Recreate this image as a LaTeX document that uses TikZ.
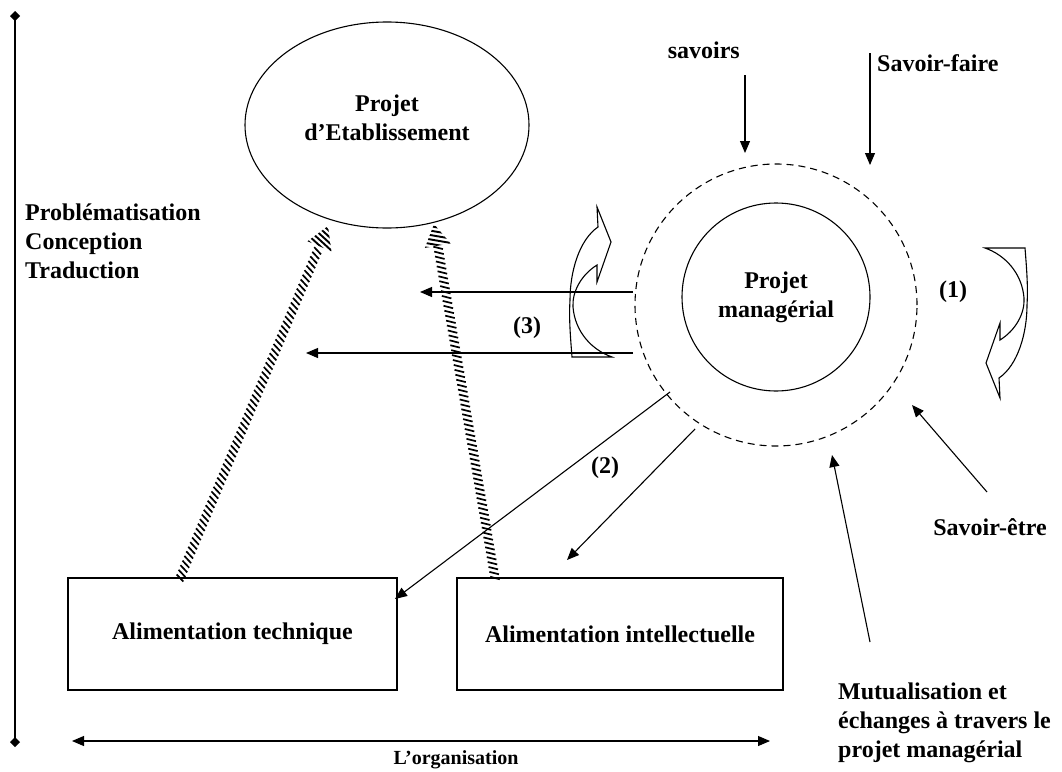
\documentclass[tikz,border=0pt]{standalone}
\usepackage{fontspec}
\setmainfont{Liberation Serif}
\usetikzlibrary{arrows.meta,calc,shapes.geometric,decorations.markings}

\tikzset{
	trait/.style={line width=1.1pt},
	fl/.style={trait, -{Triangle[length=12pt,width=10pt]}},
	txt/.style={font=\fontsize{24}{29}\selectfont\bfseries, inner sep=0pt},
	boite/.style={draw, trait, minimum height=112pt, txt},
	hach/.style={decorate, decoration={markings, mark=between positions 0 and 1 step 5pt with {\draw[line width=1.7pt] (-2pt,-4.5pt) -- (2pt,4.5pt);}}},
	courbe/.pic={
		\draw[trait] (1,20) -- (0,0) -- (14,35) -- (0,75) -- (0,58)
			.. controls (-16,68) and (-25,85) .. (-24,100)
			.. controls (-22,125) and (-5,143) .. (15,150)
			-- (-25,150)
			.. controls (-27,125) and (-28,110) .. (-27,93)
			.. controls (-27,65) and (-18,33) .. cycle;
	}
}
% hatched arrow head: #1 base on the shaft, #2 tip
\newcommand{\tetehach}[2]{
	\begin{scope}
		\clip ($(#1)!13pt!90:(#2)$) -- (#2) -- ($(#1)!13pt!-90:(#2)$) -- cycle;
		\path[decorate, decoration={markings, mark=between positions 0 and 1 step 4.6pt with {\draw[line width=1.9pt] (-5pt,-14pt) -- (5pt,14pt);}}] ($(#1)!-4pt!(#2)$) -- (#2);
	\end{scope}
}

\begin{document}
\begin{tikzpicture}[x=1pt, y=-1pt]
			%%%%% START %%%%%
			\useasboundingbox (0,0) rectangle (1062,771);
			
			% axes
			\draw[trait, {Diamond[length=10pt,width=10pt]}-{Diamond[length=10pt,width=10pt]}] (15,11) -- (15,747);
			\draw[trait, {Triangle[length=12pt,width=10pt]}-{Triangle[length=12pt,width=10pt]}] (72,741) -- (770,741);
			\node[txt, font=\fontsize{20}{24}\selectfont\bfseries] (org) at (456,760) {L’organisation};
			\node[txt, align=left, anchor=west] (pct) at (25,241) {Problématisation\\Conception\\Traduction};
			
			% projet d'etablissement
			\node[draw, trait, ellipse, minimum width=284pt, minimum height=206pt] (pe) at (387,125) {};
			\node[txt, align=center] (petxt) at (387,118) {Projet\\d’Etablissement};
			
			% projet managerial
			\node[draw, trait, dash pattern=on 7pt off 5pt, circle, minimum size=282pt] (zone) at (776,305) {};
			\node[draw, trait, circle, minimum size=188pt, txt, align=center] (pm) at (776,297) {Projet\\managérial};
			
			% boites
			\node[boite, minimum width=329pt] (tech) at (232.5,634) {Alimentation technique};
			\node[boite, minimum width=326pt] (intel) at (620,634) {Alimentation intellectuelle};
			
			% savoirs
			\node[txt, anchor=east] (sav) at (740,50) {savoirs};
			\node[txt, anchor=west] (sf) at (877,63) {Savoir-faire};
			\node[txt] (se) at (990,527) {Savoir-être};
			\node[txt, align=left, anchor=west] (mut) at (838,723) {Mutualisation et\\échanges à travers le\\projet managérial};
			\coordinate (savh) at (745,75);
			\coordinate (savb) at (745,153);
			\coordinate (sfh) at (870,53);
			\coordinate (sfb) at (870,165);
			\draw[fl] (savh) -- (savb);
			\draw[fl] (sfh) -- (sfb);
			\coordinate (seb) at (987,492);
			\coordinate (seh) at (912,405);
			\draw[fl] (seb) -- (seh);
			\coordinate (mutb) at (870,642);
			\coordinate (muth) at (832,455);
			\draw[fl] (mutb) -- (muth);
			
			% (1) (2) (3)
			\node[txt] (n1) at (953,292) {(1)};
			\node[txt] (n2) at (605,468) {(2)};
			\node[txt] (n3) at (527,328) {(3)};
			\coordinate (a3) at (633,292);
			\coordinate (b3) at (420,292);
			\coordinate (c3) at (633,353);
			\coordinate (d3) at (306,353);
			\draw[fl] (a3) -- (b3);
			\draw[fl] (c3) -- (d3);
			\coordinate (a2) at (670,392);
			\coordinate (b2) at (395,599);
			\coordinate (c2) at (695,429);
			\coordinate (d2) at (567,560);
			\draw[fl] (a2) -- (b2);
			\draw[fl] (c2) -- (d2);
			\pic at (597,207) {courbe};
			\pic[rotate=180] at (1000,398) {courbe};
			
			% alimentation vers projet d'etablissement
			\coordinate (h1b) at (180,578);
			\coordinate (h1h) at (328,226);
			\coordinate (h2b) at (495,578);
			\coordinate (h2h) at (434,224);
			\path[hach] (h1b) -- ($(h1h)!22pt!(h1b)$);
			\tetehach{$(h1h)!22pt!(h1b)$}{h1h}
			\path[hach] (h2b) -- ($(h2h)!22pt!(h2b)$);
			\tetehach{$(h2h)!22pt!(h2b)$}{h2h}
			
			%%%%% END %%%%%
		\end{tikzpicture}
\end{document}
